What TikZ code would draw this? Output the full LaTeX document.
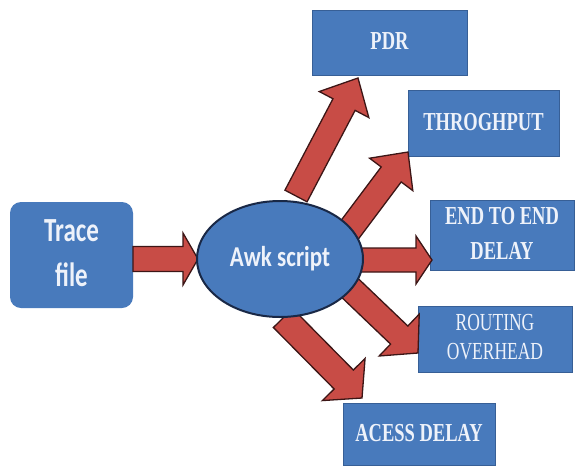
\documentclass[tikz,border=0pt]{standalone}
\usepackage{fontspec}
\usepackage{graphicx}
\usetikzlibrary{calc,shapes.geometric}
\setmainfont{Liberation Serif}
\newfontfamily\calib{Carlito}

\definecolor{boxblue}{RGB}{72,122,188}
\definecolor{boxedge}{RGB}{55,95,150}
\definecolor{ovaledge}{RGB}{25,40,70}
\definecolor{arrowred}{RGB}{200,76,70}
\definecolor{arrowedge}{RGB}{60,22,22}
\definecolor{labelwhite}{RGB}{238,242,250}

% text stretched vertically, one or more centred lines
\newcommand{\tallbox}[2]{\scalebox{1}[#1]{\begin{tabular}{@{}c@{}}#2\end{tabular}}}

% fat block arrow: tail, tip, shaft half-width, head half-width, head length
\newcommand{\blockarrow}[5]{%
  \coordinate (ba-b) at ($(#2)!#5!(#1)$);
  \draw[bigarrow] ($(#1)!#3!90:(#2)$) -- ($(ba-b)!#3!90:(#2)$)
    -- ($(ba-b)!#4!90:(#2)$) -- (#2) -- ($(ba-b)!#4!-90:(#2)$)
    -- ($(ba-b)!#3!-90:(#2)$) -- ($(#1)!#3!-90:(#2)$) -- cycle;}

\tikzset{
  bluebox/.style={draw=boxedge, line width=1pt, fill=boxblue, text=labelwhite,
    inner sep=0pt, font=\bfseries\fontsize{18.5}{25}\selectfont},
  bigarrow/.style={draw=arrowedge, line width=1.3pt, fill=arrowred, line join=miter},
}

\begin{document}
\begin{tikzpicture}[x=1pt,y=-1pt]
\useasboundingbox (0,0) rectangle (579,467);

% source and result boxes
\node[fill=boxblue, rounded corners=11pt, minimum width=123pt, minimum height=106pt,
  inner sep=0pt, text=labelwhite, font=\calib\bfseries\fontsize{25}{33}\selectfont]
  (trace) at (71.5,255) {\tallbox{1.35}{Trace\\file}};

\node[bluebox, minimum width=155pt, minimum height=65pt] (pdr) at (389.5,42.5)
  {\tallbox{1.4}{PDR}};
\node[bluebox, minimum width=151pt, minimum height=66pt] (thr) at (483.5,123)
  {\tallbox{1.4}{THROGHPUT}};
\node[bluebox, minimum width=144pt, minimum height=66pt] (e2e) at (502,235)
  {\tallbox{1.4}{END TO END\\DELAY}};
\node[bluebox, minimum width=154pt, minimum height=66pt,
  font=\fontsize{17.5}{21}\selectfont] (rout) at (495,339)
  {\tallbox{1.4}{ROUTING\\OVERHEAD}};
\node[bluebox, minimum width=152pt, minimum height=62pt] (acc) at (419,434)
  {\tallbox{1.4}{ACESS DELAY}};

% arrow end points
\coordinate (t0) at (133,259);   \coordinate (h0) at (198,259);
\coordinate (t1) at (296,196);   \coordinate (h1) at (358,78);
\coordinate (t2) at (348,232);   \coordinate (h2) at (408,152);
\coordinate (t3) at (350,260);   \coordinate (h3) at (432,260);
\coordinate (t4) at (350,288);   \coordinate (h4) at (418,353);
\coordinate (t5) at (283,318);   \coordinate (h5) at (362,398);

\blockarrow{t0}{h0}{12.5pt}{26pt}{15pt}
\blockarrow{t1}{h1}{12.5pt}{28pt}{30pt}
\blockarrow{t2}{h2}{12.5pt}{27pt}{28pt}
\blockarrow{t3}{h3}{12pt}{24pt}{16pt}
\blockarrow{t4}{h4}{12.5pt}{29pt}{26pt}
\blockarrow{t5}{h5}{13.5pt}{30pt}{26pt}

% processing step
\node[ellipse, draw=ovaledge, line width=2pt, fill=boxblue, minimum width=166pt,
  minimum height=116pt, inner sep=0pt, text=labelwhite,
  font=\calib\bfseries\fontsize{23}{28}\selectfont] (awk) at (280,259)
  {\tallbox{1.25}{Awk script}};
\end{tikzpicture}
\end{document}
